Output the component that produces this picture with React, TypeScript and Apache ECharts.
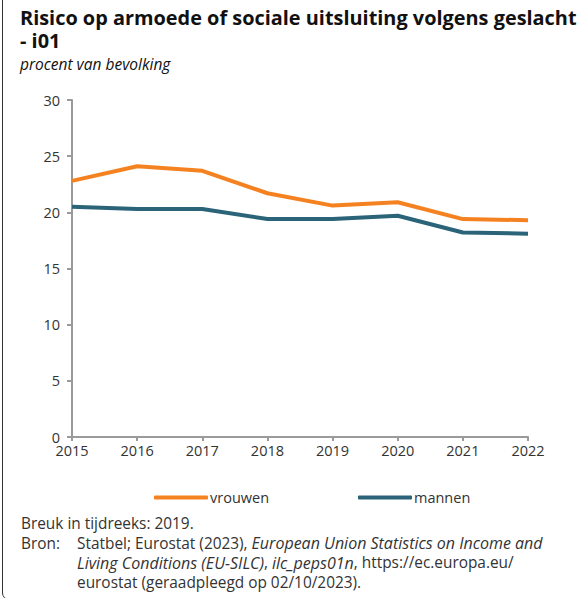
import React, { useEffect, useRef } from "react";
import * as echarts from "echarts";

const years = ["2015", "2016", "2017", "2018", "2019", "2020", "2021", "2022"];
const vrouwen = [22.8, 24.1, 23.7, 21.7, 20.6, 20.9, 19.4, 19.3];
const mannen = [20.5, 20.3, 20.3, 19.4, 19.4, 19.7, 18.2, 18.1];
const seriesNames = ["vrouwen", "mannen"];
const colors = ["#F58220", "#2B6478"];

const FONT = "Open Sans";
const TXT = "#333333";

export default function App() {
  const ref = useRef<HTMLDivElement>(null);
  useEffect(() => {
    const chart = echarts.init(ref.current!, null, { renderer: "svg" });
    const footStyle = { fontFamily: FONT, fontSize: 15.4, fill: TXT, lineHeight: 19 };
    const ital = { fontFamily: FONT, fontSize: 16, fontStyle: "italic", fill: TXT, lineHeight: 19 };
    chart.setOption({
      animation: false,
      grid: { left: 72, right: 55, top: 100, bottom: 161, containLabel: false },
      xAxis: {
        type: "category",
        data: years,
        boundaryGap: false,
        axisLine: { show: true, lineStyle: { color: "#9a9a9a", width: 2 } },
        axisTick: { show: true, length: 4, lineStyle: { color: "#9a9a9a", width: 2 } },
        axisLabel: { color: TXT, fontFamily: FONT, fontSize: 14.5, margin: 6 },
        splitLine: { show: false },
      },
      yAxis: {
        type: "value",
        min: 0,
        max: 30,
        interval: 5,
        axisLine: { show: true, lineStyle: { color: "#9a9a9a", width: 2 } },
        axisTick: { show: true, length: 5, lineStyle: { color: "#9a9a9a", width: 2 } },
        axisLabel: { color: TXT, fontFamily: FONT, fontSize: 14.5, margin: 12 },
        splitLine: { show: false },
      },
      legend: [
        {
          data: [seriesNames[0]],
          left: 149,
          top: 485,
          icon: "roundRect",
          itemWidth: 54,
          itemHeight: 4,
          itemGap: 5,
          textStyle: { color: TXT, fontFamily: FONT, fontSize: 14.5, padding: [0, 0, 0, -3] },
        },
        {
          data: [seriesNames[1]],
          left: 353,
          top: 485,
          icon: "roundRect",
          itemWidth: 54,
          itemHeight: 4,
          textStyle: { color: TXT, fontFamily: FONT, fontSize: 14.5, padding: [0, 0, 0, -3] },
        },
      ],
      series: [
        {
          name: seriesNames[0],
          type: "line",
          data: vrouwen,
          color: colors[0],
          symbol: "none",
          lineStyle: { width: 4, color: colors[0] },
        },
        {
          name: seriesNames[1],
          type: "line",
          data: mannen,
          color: colors[1],
          symbol: "none",
          lineStyle: { width: 4, color: colors[1] },
        },
      ],
      graphic: [
        {
          type: "text",
          left: 20,
          top: 6,
          style: {
            text: "Risico op armoede of sociale uitsluiting volgens geslacht",
            fontFamily: FONT,
            fontWeight: "bold",
            fontSize: 19.9,
            lineHeight: 22,
            fill: "#111",
          },
        },
        {
          type: "text",
          left: 20,
          top: 29,
          style: {
            text: "- i01",
            fontFamily: FONT,
            fontWeight: "bold",
            fontSize: 19.9,
            lineHeight: 22,
            fill: "#111",
          },
        },
        {
          type: "text",
          left: 20,
          top: 55,
          style: {
            text: "procent van bevolking",
            fontFamily: FONT,
            fontStyle: "italic",
            fontSize: 15.5,
            lineHeight: 18,
            fill: "#111",
          },
        },
        { type: "text", left: 21, top: 514, style: { ...footStyle, text: "Breuk in tijdreeks: 2019." } },
        { type: "text", left: 21, top: 533.5, style: { ...footStyle, text: "Bron:" } },
        {
          type: "text",
          left: 77,
          top: 533.5,
          style: {
            ...footStyle,
            text: "Statbel; Eurostat (2023), {i|European Union Statistics on Income and}",
            rich: { i: ital },
          },
        },
        {
          type: "text",
          left: 77,
          top: 553,
          style: {
            ...footStyle,
            text: "{i|Living Conditions (EU-SILC)}, {i|ilc_peps01n}, https://ec.europa.eu/",
            rich: { i: ital },
          },
        },
        {
          type: "text",
          left: 77,
          top: 572.5,
          style: { ...footStyle, text: "eurostat (geraadpleegd op 02/10/2023)." },
        },
      ],
    });
    return () => chart.dispose();
  }, []);
  return (
    <div style={{ position: "fixed", left: 0, top: 0, width: 583, height: 598, background: "#fff", overflow: "hidden" }}>
      <div
        style={{
          position: "absolute",
          left: 2,
          top: -20,
          width: 640,
          height: 620,
          border: "1.5px solid #333",
          borderRadius: 7,
          boxSizing: "border-box",
        }}
      />
      <div ref={ref} style={{ position: "absolute", left: 0, top: 0, width: 583, height: 598 }} />
    </div>
  );
}
